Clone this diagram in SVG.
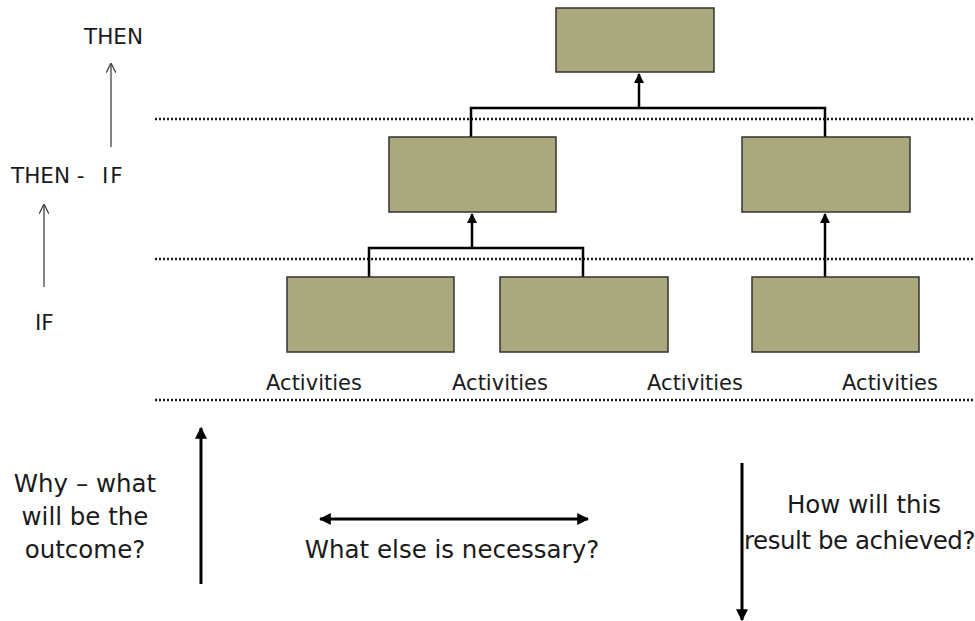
<svg xmlns="http://www.w3.org/2000/svg" width="975" height="621" viewBox="0 0 975 621">
  <style>
    .box { fill: #a9a97d; stroke: #333333; stroke-width: 1.5; }
    .link { fill: none; stroke: #000000; stroke-width: 2.5; }
    .dots { fill: none; stroke: #1a1a1a; stroke-width: 2.5; stroke-dasharray: 2 2; }
    .thin { fill: none; stroke: #333333; stroke-width: 1.2; }
    .big { fill: none; stroke: #000000; stroke-width: 3; }
    .lbl { font-family: "DejaVu Sans", Verdana, sans-serif; fill: #1a1a1a; }
    .act { font-size: 21px; text-anchor: middle; }
    .side { font-size: 21.5px; }
    .q { font-size: 24.5px; text-anchor: middle; }
  </style>
  <defs>
    <marker id="tip" viewBox="0 0 10 10" refX="9" refY="5" markerWidth="4" markerHeight="4" orient="auto-start-reverse" markerUnits="strokeWidth">
      <path d="M0,0 L10,5 L0,10 z" fill="#000000"/>
    </marker>
    <marker id="open" viewBox="0 0 10 10" refX="9" refY="5" markerWidth="8" markerHeight="8" orient="auto" markerUnits="strokeWidth">
      <path d="M0,0 L10,5 L0,10" fill="none" stroke="#333333" stroke-width="1.2"/>
    </marker>
  </defs>

  <!-- level separators -->
  <g id="separators">
    <line class="dots" x1="155" y1="119" x2="975" y2="119"/>
    <line class="dots" x1="155" y1="259" x2="975" y2="259"/>
    <line class="dots" x1="155" y1="400" x2="975" y2="400"/>
  </g>

  <!-- hierarchy connectors -->
  <g id="connectors">
    <path class="link" d="M471,137 V108 H825 V137"/>
    <line class="link" x1="639" y1="108" x2="639" y2="74" marker-end="url(#tip)"/>
    <path class="link" d="M369,277 V248 H583 V277"/>
    <line class="link" x1="472" y1="248" x2="472" y2="214" marker-end="url(#tip)"/>
    <line class="link" x1="825" y1="277" x2="825" y2="214" marker-end="url(#tip)"/>
  </g>

  <!-- result levels -->
  <g id="goal"><rect class="box" x="556" y="8" width="158" height="64"/></g>
  <g id="outcome-left"><rect class="box" x="389" y="137" width="167" height="75"/></g>
  <g id="outcome-right"><rect class="box" x="742" y="137" width="168" height="75"/></g>
  <g id="output-1"><rect class="box" x="287" y="277" width="167" height="75"/></g>
  <g id="output-2"><rect class="box" x="500" y="277" width="168" height="75"/></g>
  <g id="output-3"><rect class="box" x="752" y="277" width="167" height="75"/></g>

  <!-- activities row -->
  <g id="activities" class="lbl act">
    <text x="314" y="390">Activities</text>
    <text x="500" y="390">Activities</text>
    <text x="695" y="390">Activities</text>
    <text x="890" y="390">Activities</text>
  </g>

  <!-- if / then logic ladder -->
  <g id="logic">
    <text class="lbl side" x="84" y="44">THEN</text>
    <line class="thin" x1="111" y1="147" x2="111" y2="64" marker-end="url(#open)"/>
    <text class="lbl side" y="183"><tspan x="11">THEN -</tspan><tspan x="102" letter-spacing="2">IF</tspan></text>
    <line class="thin" x1="44" y1="287" x2="44" y2="205" marker-end="url(#open)"/>
    <text class="lbl side" x="35" y="330">IF</text>
  </g>

  <!-- guiding questions -->
  <g id="why">
    <line class="big" x1="201" y1="584" x2="201" y2="428" marker-end="url(#tip)"/>
    <text class="lbl q" x="85" y="492">Why – what</text>
    <text class="lbl q" x="85" y="525">will be the</text>
    <text class="lbl q" x="85" y="558">outcome?</text>
  </g>
  <g id="what-else">
    <line class="big" x1="320" y1="519" x2="588" y2="519" marker-start="url(#tip)" marker-end="url(#tip)"/>
    <text class="lbl q" x="452" y="558">What else is necessary?</text>
  </g>
  <g id="how">
    <line class="big" x1="742" y1="463" x2="742" y2="620" marker-end="url(#tip)"/>
    <text class="lbl q" x="864" y="513">How will this</text>
    <text class="lbl q" x="744" y="549" style="text-anchor:start" letter-spacing="-0.45">result be achieved?</text>
  </g>
</svg>
